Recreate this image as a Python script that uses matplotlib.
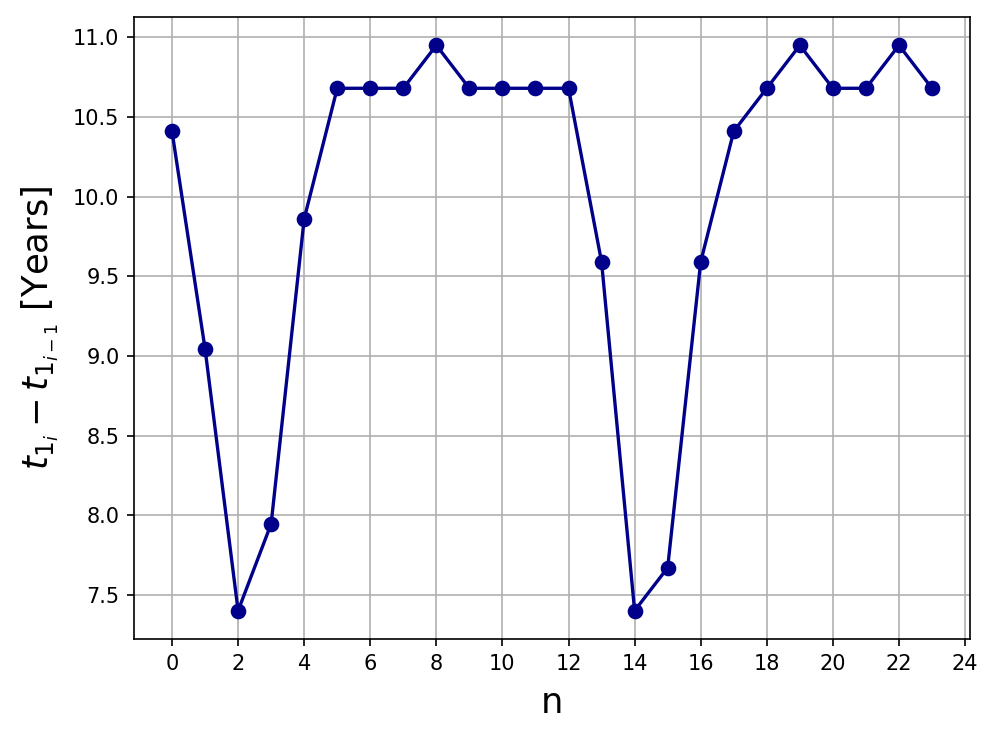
import matplotlib
matplotlib.use("Agg")
import matplotlib.pyplot as plt
import numpy as np

n = list(range(24))
dt_years = [10.41, 9.045, 7.40, 7.945, 9.86, 10.68, 10.68, 10.68, 10.95, 10.68,
            10.68, 10.68, 10.68, 9.59, 7.40, 7.67, 9.59, 10.41, 10.68, 10.95,
            10.68, 10.68, 10.95, 10.68]
xticks = list(range(0, 25, 2))

fig = plt.figure(figsize=(997/150, 739/150), dpi=150)
ax = fig.add_axes([134/997, 1-639/739, (970-134)/997, (639-17)/739])
ax.plot(n, dt_years, '-o', color='darkblue', markersize=6.5, linewidth=1.6)
ax.set_xticks(xticks)
ax.grid(True)
ax.set_xlabel('n', fontsize=17, labelpad=6)
ax.set_ylabel(r'$t_{1_i} - t_{1_{i-1}}$ [Years]', fontsize=17, labelpad=6)
fig.savefig('out.png', dpi=150)
